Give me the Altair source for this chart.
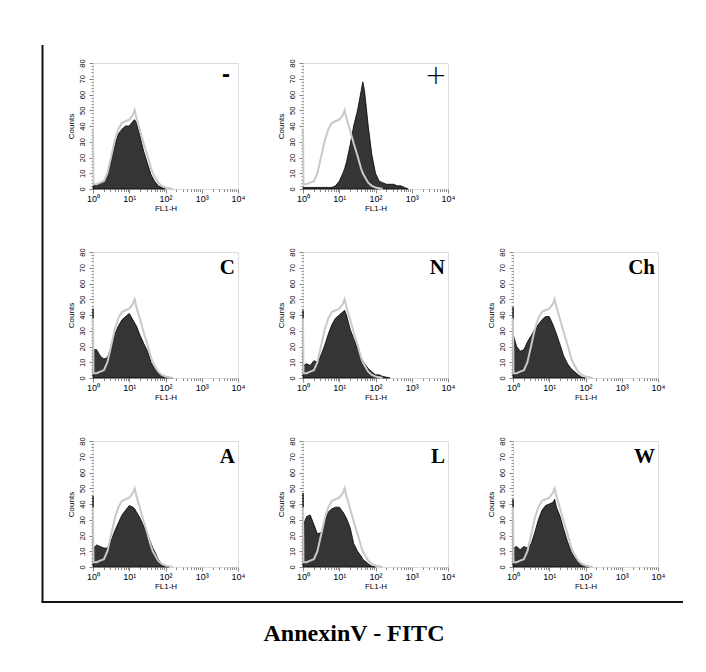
import altair as alt
import pandas as pd

# FL1-H bin positions (log scale, 10^0 .. 10^4)
FL1 = [1.0, 1.03, 1.26, 1.58, 2.0, 2.5, 3.2, 4.0, 5.0, 6.3, 7.9, 10, 12.6, 14.1, 15.8,
       20, 25, 32, 40, 44.7, 50, 63, 79, 100, 126, 158, 200, 251, 316, 398, 501, 631, 794]

# unstained / control histogram (light grey outline, same in every panel)
CONTROL = [38, 3, 3, 4, 5, 10, 21, 31, 38, 42, 43, 44, 47, 50, 45, 37, 29, 21, 13, 10, 8, 4, 2, 1, 0.5, 0]

# stained histograms (dark filled)
NEG = [2, 2, 3, 4, 5, 10, 18, 28, 35, 38, 40, 40, 43, 44, 42, 33, 24, 16, 9, 7, 5, 2, 1, 0]
POS = [1, 1, 1, 1, 1, 1, 1, 1, 1, 1, 2, 5, 10, 13, 17, 28, 40, 50, 62, 68, 62, 40, 22, 10, 5, 4, 3, 3, 3, 2, 2, 1, 0]
C_ = [44, 18, 18, 14, 12, 13, 20, 28, 33, 37, 39, 41, 37, 35, 33, 27, 22, 17, 10, 8, 6, 3, 2, 1, 0.5, 0]
N_ = [43, 8, 9, 8, 11, 10, 15, 21, 28, 34, 38, 40, 42, 43, 40, 31, 25, 19, 13, 11, 9, 6, 4, 2, 2, 1, 0.5, 0]
CH = [45, 27, 20, 17, 18, 23, 27, 31, 34, 37, 39, 39, 34, 31, 28, 21, 14, 9, 6, 5, 4, 2, 0.5, 0]
A_ = [45, 12, 14, 13, 12, 12, 17, 23, 28, 33, 36, 39, 38, 37, 35, 31, 26, 21, 15, 12, 10, 5, 2, 0.5, 0]
L_ = [47, 27, 32, 33, 27, 21, 22, 30, 35, 37, 38, 38, 35, 33, 31, 25, 15, 10, 7, 5, 4, 2, 0.5, 0]
W_ = [43, 12, 13, 11, 13, 12, 15, 22, 30, 36, 39, 40, 41, 43, 38, 32, 24, 16, 10, 8, 6, 4, 2, 1, 0]

LABELS = ["-", "+", "C", "N", "Ch", "A", "L", "W"]
SERIES = [NEG, POS, C_, N_, CH, A_, L_, W_]

Y_TICKS = [0, 10, 20, 30, 40, 50, 60, 70, 80]
Y_MINOR = [v for v in range(0, 81, 2) if v % 10]
X_MAJOR = [1, 10, 100, 1000, 10000]
X_MINOR = [m * 10 ** k for k in range(4) for m in range(2, 10)]

PW, PH = 145, 126


def pad(v):
    return v + [None] * (len(FL1) - len(v))


xs = alt.Scale(type="log", domain=[1, 10000], nice=False)
ys = alt.Scale(domain=[0, 80], nice=False)

x_major = alt.Axis(values=X_MAJOR, orient="bottom", grid=False, domain=False,
                   labelExpr="datum.value == 1 ? '10⁰' : datum.value == 10 ? '10¹' : datum.value == 100 ? '10²' : datum.value == 1000 ? '10³' : '10⁴'",
                   labelFlush=False, labelOverlap=False, labelFontSize=9, labelPadding=1,
                   tickSize=4, title="FL1-H", titleFontSize=8, titlePadding=1,
                   titleFontWeight="normal")
x_minor = alt.Axis(values=X_MINOR, orient="bottom", grid=False, domain=False,
                   labels=False, tickSize=2.5, title=None)
y_axis = alt.Axis(values=Y_TICKS, orient="left", grid=False, domain=False, labelAngle=270,
                  labelAlign="center", labelBaseline="bottom", labelFontSize=7.5,
                  labelPadding=3, labelFlush=False, labelOverlap=False, tickSize=4,
                  title="Counts", titleFontSize=8, titlePadding=3, titleFontWeight="normal")
y_minor = alt.Axis(values=Y_MINOR, orient="left", grid=False, domain=False,
                   labels=False, tickSize=2, title=None)


def panel(name, dark):
    df = pd.DataFrame({"x": FL1, "dark": pad(dark), "ctrl": pad(CONTROL)})
    base = alt.Chart(df)
    area = base.transform_filter("isValid(datum.dark)").mark_area(
        fill="#353535", stroke="black", strokeWidth=0.8, interpolate="linear"
    ).encode(x=alt.X("x:Q", scale=xs, axis=x_major),
             y=alt.Y("dark:Q", scale=ys, axis=y_axis))
    line = base.transform_filter("isValid(datum.ctrl)").mark_line(
        color="#c9c9c9", strokeWidth=2, interpolate="linear"
    ).encode(x=alt.X("x:Q", scale=xs, axis=x_minor),
             y=alt.Y("ctrl:Q", scale=ys, axis=y_minor))
    lab_df = pd.DataFrame({"label": [name]})
    if name == "-":
        lab = alt.Chart(lab_df).mark_text(
            font="Liberation Sans", fontWeight="bold", fontSize=24,
            align="center", baseline="middle", color="black"
        ).encode(text="label:N", x=alt.value(PW - 12), y=alt.value(12))
    elif name == "+":
        lab = alt.Chart(lab_df).mark_text(
            font="DejaVu Sans", fontWeight=200, fontSize=26,
            align="center", baseline="middle", color="black"
        ).encode(text="label:N", x=alt.value(PW - 12), y=alt.value(13))
    else:
        lab = alt.Chart(lab_df).mark_text(
            font="Liberation Serif", fontWeight="bold", fontSize=21,
            align="right", baseline="top", color="black"
        ).encode(text="label:N", x=alt.value(PW - 3), y=alt.value(5))
    layers = [area, line, lab]
    if name == "A":
        one = pd.DataFrame({"v": [0]})
        vrule = alt.Chart(one).mark_rule(color="#111111", strokeWidth=2).encode(
            x=alt.value(-50.5), y=alt.value(-396), y2=alt.value(161))
        hrule = alt.Chart(one).mark_rule(color="#111111", strokeWidth=2).encode(
            x=alt.value(-51.5), x2=alt.value(590), y=alt.value(161))
        ttl = alt.Chart(one).mark_text(
            text="AnnexinV - FITC", font="Liberation Serif", fontWeight="bold",
            fontSize=24, align="center", baseline="alphabetic", color="black"
        ).encode(x=alt.value(261), y=alt.value(200))
        layers += [vrule, hrule, ttl]
    return alt.layer(*layers).resolve_axis(x="independent", y="independent").properties(
        width=PW, height=PH)


empty = alt.Chart(pd.DataFrame({"v": [0]})).mark_point(opacity=0).encode(
    x=alt.value(0), y=alt.value(0)
).properties(width=PW, height=PH, view=alt.ViewBackground(stroke="transparent"))

panels = [panel(n, s) for n, s in zip(LABELS, SERIES)]
grid = [panels[0], panels[1], empty] + panels[2:]

chart = alt.concat(*grid, columns=3, spacing={"row": 63, "column": 65}, bounds="flush").properties(
    padding={"left": 32, "top": 35, "right": 5, "bottom": 5}
).configure_view(stroke="black", strokeWidth=1).configure_axis(
    labelFont="Liberation Sans", titleFont="Liberation Sans", labelColor="black",
    titleColor="black", tickColor="black", titleFontWeight="normal"
).configure(background="white")

chart.save("out.html", embed_options={"renderer": "svg", "actions": False})
